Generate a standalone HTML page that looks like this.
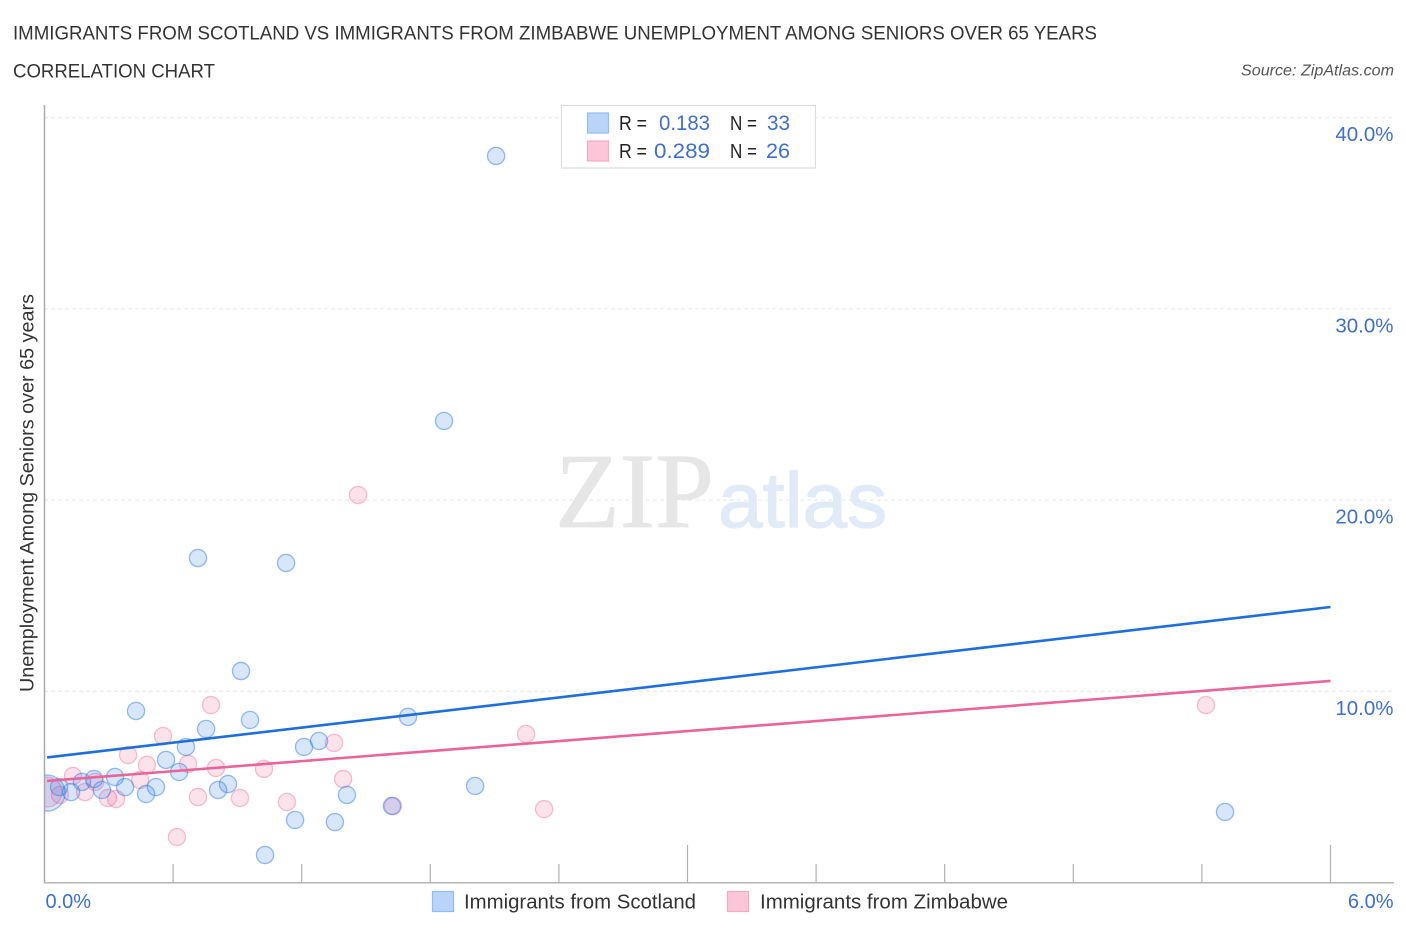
<!DOCTYPE html>
<html lang="en">
<head>
<meta charset="utf-8">
<title>Immigrants from Scotland vs Immigrants from Zimbabwe Unemployment Among Seniors over 65 Years</title>
<style>
html,body{margin:0;padding:0;background:#fff;}
svg{display:block;}
text{font-family:"Liberation Sans",sans-serif;}
</style>
</head>
<body>
<svg id="chart" xmlns="http://www.w3.org/2000/svg" width="1406" height="930" viewBox="0 0 1406 930">
  <defs>
    <clipPath id="plotClip"><rect x="45" y="100" width="1350" height="783"/></clipPath>
  </defs>
  <rect x="0" y="0" width="1406" height="930" fill="#ffffff"/>
  <text x="13" y="39.5" font-size="19" fill="#333333" textLength="1084" lengthAdjust="spacingAndGlyphs">IMMIGRANTS FROM SCOTLAND VS IMMIGRANTS FROM ZIMBABWE UNEMPLOYMENT AMONG SENIORS OVER 65 YEARS</text>
  <text x="13" y="77.5" font-size="19" fill="#333333" textLength="202" lengthAdjust="spacingAndGlyphs">CORRELATION CHART</text>
  <text x="1241" y="75.5" font-size="15.5" font-style="italic" fill="#555555" textLength="153" lengthAdjust="spacingAndGlyphs">Source: ZipAtlas.com</text>

  <g>
    <text x="555" y="527" font-size="107" fill="#e6e6e6" stroke="#e6e6e6" stroke-width="0.8" style="font-family:'Liberation Serif',serif" textLength="159" lengthAdjust="spacingAndGlyphs">ZIP</text>
    <text x="718" y="527" font-size="78" fill="#e1ebf8" stroke="#e1ebf8" stroke-width="1.2" style="font-family:'Liberation Sans',sans-serif" textLength="169" lengthAdjust="spacingAndGlyphs">atlas</text>
  </g>

  <g id="grid"></g>
  <g id="axes"></g>
  <g clip-path="url(#plotClip)">
    <g id="pointsZimbabwe"></g>
    <g id="pointsScotland"></g>
  </g>
  <g id="trends"></g>

  <text transform="translate(33.5,493) rotate(-90)" text-anchor="middle" font-size="19" fill="#333333" textLength="398" lengthAdjust="spacingAndGlyphs">Unemployment Among Seniors over 65 years</text>

  <g>
    <rect x="561.5" y="105.5" width="254" height="62.5" fill="#ffffff" stroke="#dddddd" stroke-width="1.2"/>
    <rect x="587.5" y="113" width="21" height="20" fill="#b9d4f8" stroke="#93bcf2" stroke-width="1.2"/>
    <rect x="587.5" y="141" width="21" height="20" fill="#fcc6d8" stroke="#f5a9c3" stroke-width="1.2"/>
    <text x="619" y="130" font-size="20" fill="#222222" textLength="28" lengthAdjust="spacingAndGlyphs">R =</text>
    <text x="659" y="130" font-size="21" fill="#3f6fc9" textLength="51" lengthAdjust="spacingAndGlyphs">0.183</text>
    <text x="730" y="130" font-size="20" fill="#222222" textLength="27" lengthAdjust="spacingAndGlyphs">N =</text>
    <text x="767" y="130" font-size="21" fill="#3f6fc9" textLength="23" lengthAdjust="spacingAndGlyphs">33</text>
    <text x="619" y="158" font-size="20" fill="#222222" textLength="28" lengthAdjust="spacingAndGlyphs">R =</text>
    <text x="654" y="158" font-size="21" fill="#3f6fc9" textLength="56" lengthAdjust="spacingAndGlyphs">0.289</text>
    <text x="730" y="158" font-size="20" fill="#222222" textLength="27" lengthAdjust="spacingAndGlyphs">N =</text>
    <text x="766" y="158" font-size="21" fill="#3f6fc9" textLength="24" lengthAdjust="spacingAndGlyphs">26</text>
  </g>

  <g>
    <rect x="432.5" y="891.5" width="21" height="20" fill="#b9d4f8" stroke="#93bcf2" stroke-width="1.2"/>
    <text x="464" y="908.5" font-size="20" fill="#333333" textLength="232" lengthAdjust="spacingAndGlyphs">Immigrants from Scotland</text>
    <rect x="727.5" y="891.5" width="21" height="20" fill="#fcc6d8" stroke="#f5a9c3" stroke-width="1.2"/>
    <text x="760" y="908.5" font-size="20" fill="#333333" textLength="248" lengthAdjust="spacingAndGlyphs">Immigrants from Zimbabwe</text>
  </g>
</svg>
<script>
const scotlandX = [2.107,1.864,0.716,1.127,0.917,0.427,0.959,0.754,1.696,0.660,1.211,1.281,0.567,0.628,0.856,0.810,1.411,2.009,1.621,1.169,1.355,1.029,5.508,0.474,0.520,0.376,0.329,0.231,0.268,0.175,0.124,0.068,0.012];
const scotlandY = [38.00,24.14,16.97,16.71,11.06,8.97,8.50,8.03,8.66,7.09,7.09,7.40,6.41,5.78,5.15,4.84,4.58,5.05,4.00,3.27,3.16,1.44,3.69,4.63,4.99,4.99,5.52,5.41,4.84,5.26,4.73,4.99,4.68];
const scotlandWeight = [1,1,1,1,1,1,1,1,1,1,1,1,1,1,1,1,1,1,1,1,1,1,1,1,1,1,1,1,1,1,1,1,4.4];
const zimbabweX = [1.463,0.777,5.419,2.247,0.553,1.351,0.390,0.670,0.478,0.800,1.024,0.446,1.393,0.133,0.189,0.236,0.296,0.334,0.716,0.912,1.131,1.626,2.331,0.618,0.072,0.012];
const zimbabweY = [20.27,9.28,9.28,7.77,7.66,7.30,6.67,6.20,6.15,5.99,5.94,5.36,5.41,5.57,4.73,5.26,4.42,4.37,4.47,4.42,4.21,4.00,3.84,2.38,4.58,4.73];
const zimbabweWeight = [1,1,1,1,1,1,1,1,1,1,1,1,1,1,1,1,1,1,1,1,1,1,1,1,1,3];
const scotlandTrendX = [0.012,6.0];
const scotlandTrendY = [6.54,14.41];
const zimbabweTrendX = [0.012,6.0];
const zimbabweTrendY = [5.31,10.54];
const yGridValues = [10,20,30,40];
const yTickLabels = ["10.0%","20.0%","30.0%","40.0%"];
const xTickValues = [0.6,1.2,1.8,2.4,3.0,3.6,4.2,4.8,5.4,6.0];
const xMajorTicks = [3.0,6.0];
const xEndValues = [0,6];
const xEndLabels = ["0.0%","6.0%"];

const NS = "http://www.w3.org/2000/svg";
const xScale = v => 44.5 + v * 214.33;
const yScale = v => 882.5 - v * 19.12;

function make(parent, tag, attrs, text) {
  const el = document.createElementNS(NS, tag);
  for (const k in attrs) el.setAttribute(k, attrs[k]);
  if (text !== undefined) el.textContent = text;
  document.getElementById(parent).appendChild(el);
  return el;
}

yGridValues.forEach((v, i) => {
  const line = make("grid", "line", {x1: 44, x2: 1394, y1: yScale(v), y2: yScale(v), stroke: "#e6e6e6", "stroke-width": 1, "stroke-dasharray": "4 3"});
  
  
  const label = make("axes", "text", {x: 1393.5, y: yScale(v) + 23.5, "text-anchor": "end", "font-size": 20.5, fill: "#3f6fc9"}, yTickLabels[i]);
  
  
});

const yAxis = make("axes", "line", {x1: 44.5, x2: 44.5, y1: 105, y2: 883.5, stroke: "#aaaaaa", "stroke-width": 1.5});


const xAxis = make("axes", "line", {x1: 44, x2: 1394, y1: 882.7, y2: 882.7, stroke: "#b5b5b5", "stroke-width": 1.5});



xTickValues.forEach(v => {
  const top = xMajorTicks.includes(v) ? 845 : 864;
  const tick = make("axes", "line", {x1: xScale(v), x2: xScale(v), y1: top, y2: 882.7, stroke: "#b0b0b0", "stroke-width": 1.2});
  
  
});

xEndValues.forEach((v, i) => {
  const isLast = i === xEndValues.length - 1;
  const label = make("axes", "text", {x: isLast ? 1393.5 : xScale(v) + 1, y: 908, "text-anchor": isLast ? "end" : "start", "font-size": 20, fill: "#3f6fc9"}, xEndLabels[i]);
  
  
});

const baseRadius = 8.6;
zimbabweX.forEach((x, i) => {
  const c = make("pointsZimbabwe", "circle", {cx: xScale(x), cy: yScale(zimbabweY[i]), r: baseRadius * Math.sqrt(zimbabweWeight[i]), fill: "#f0608f", "fill-opacity": 0.18, stroke: "#ee6a98", "stroke-opacity": 0.42, "stroke-width": 1.3});
  
  
});
scotlandX.forEach((x, i) => {
  const c = make("pointsScotland", "circle", {cx: xScale(x), cy: yScale(scotlandY[i]), r: baseRadius * Math.sqrt(scotlandWeight[i]), fill: "#3b82e6", "fill-opacity": 0.2, stroke: "#2f7be6", "stroke-opacity": 0.5, "stroke-width": 1.3});
  
  
});

const blueTrend = make("trends", "line", {x1: xScale(scotlandTrendX[0]), y1: yScale(scotlandTrendY[0]), x2: xScale(scotlandTrendX[1]), y2: yScale(scotlandTrendY[1]), stroke: "#1f6fdb", "stroke-width": 2.6});


const pinkTrend = make("trends", "line", {x1: xScale(zimbabweTrendX[0]), y1: yScale(zimbabweTrendY[0]), x2: xScale(zimbabweTrendX[1]), y2: yScale(zimbabweTrendY[1]), stroke: "#e8659a", "stroke-width": 2.6});


</script>
</body>
</html>
